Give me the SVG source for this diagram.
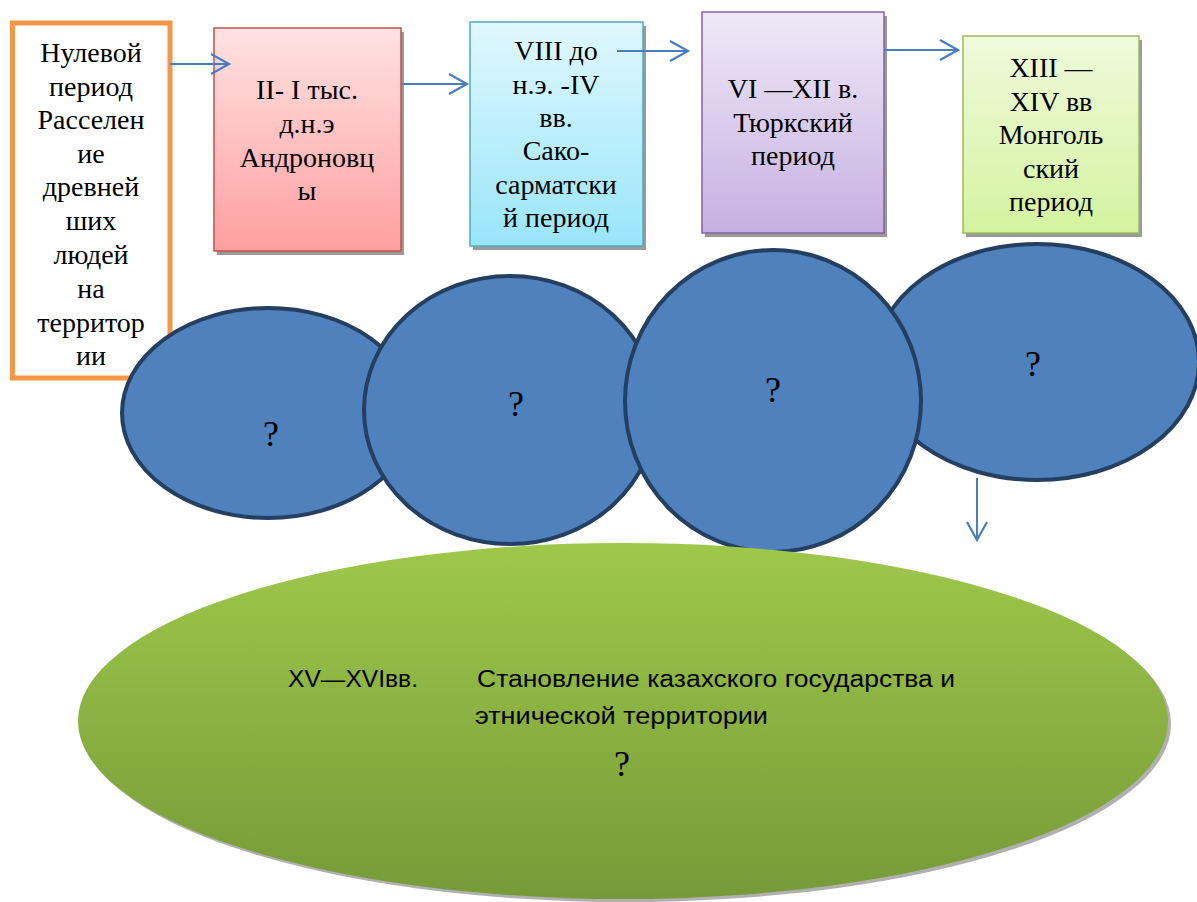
<svg xmlns="http://www.w3.org/2000/svg" width="1197" height="902" viewBox="0 0 1197 902">
<style>
.sh{fill:#9a9a9a}
.blob{fill:#4f81bd;stroke:#243f60;stroke-width:4}
.con{stroke:#4a7ebb;stroke-width:2;fill:none}
</style>
<defs>
<linearGradient id="gRed" x1="0" y1="0" x2="0" y2="1"><stop offset="0" stop-color="#ffe2e2"/><stop offset="1" stop-color="#ff9f9f"/></linearGradient>
<linearGradient id="gCyan" x1="0" y1="0" x2="0" y2="1"><stop offset="0" stop-color="#e0f8fe"/><stop offset="1" stop-color="#99e5fa"/></linearGradient>
<linearGradient id="gPur" x1="0" y1="0" x2="0" y2="1"><stop offset="0" stop-color="#efe9f7"/><stop offset="1" stop-color="#c6b0e2"/></linearGradient>
<linearGradient id="gGrn" x1="0" y1="0" x2="0" y2="1"><stop offset="0" stop-color="#effadb"/><stop offset="1" stop-color="#d4f3a0"/></linearGradient>
<linearGradient id="gBig" x1="0" y1="0" x2="0" y2="1"><stop offset="0" stop-color="#9ec84b"/><stop offset="1" stop-color="#769a38"/></linearGradient>
<marker id="ah" markerUnits="userSpaceOnUse" markerWidth="24" markerHeight="24" viewBox="-20 -12 24 24" refX="0" refY="0" orient="auto" overflow="visible">
<path d="M-18,-10 L0,0 L-18,10" fill="none" stroke="#4a7ebb" stroke-width="2.2"/>
</marker>
</defs>

<g id="node-zero">
<rect x="12.5" y="23" width="157.5" height="355" fill="#fff" stroke="#f79646" stroke-width="5"/>
<g font-family="Liberation Serif, 'Times New Roman', serif" font-size="28" text-anchor="middle" fill="#000">
<text x="91" y="62">Нулевой</text>
<text x="91" y="96">период</text>
<text x="91" y="129">Расселен</text>
<text x="91" y="163">ие</text>
<text x="91" y="196">древней</text>
<text x="91" y="230">ших</text>
<text x="91" y="264">людей</text>
<text x="91" y="298">на</text>
<text x="91" y="332">территор</text>
<text x="91" y="365">ии</text>
</g>
</g>

<g id="node-andronovo">
<rect class="sh" x="217" y="32" width="187" height="223"/>
<rect x="214" y="28" width="187" height="223" fill="url(#gRed)" stroke="#c0504d" stroke-width="1.5"/>
<g font-family="Liberation Serif, 'Times New Roman', serif" font-size="28" text-anchor="middle" fill="#000">
<text x="307" y="99">II- I тыс.</text>
<text x="307" y="133">д.н.э</text>
<text x="307" y="167">Андроновц</text>
<text x="307" y="200">ы</text>
</g>
</g>

<g id="node-saka">
<rect class="sh" x="473" y="26" width="173" height="224"/>
<rect x="470" y="22" width="173" height="224" fill="url(#gCyan)" stroke="#4bacc6" stroke-width="1.5"/>
<g font-family="Liberation Serif, 'Times New Roman', serif" font-size="28" text-anchor="middle" fill="#000">
<text x="556" y="60">VIII до</text>
<text x="556" y="94">н.э. -IV</text>
<text x="556" y="127">вв.</text>
<text x="556" y="160">Сако-</text>
<text x="556" y="194">сарматски</text>
<text x="556" y="227">й период</text>
</g>
</g>

<g id="node-turk">
<rect class="sh" x="705" y="16" width="182" height="221"/>
<rect x="702" y="12" width="182" height="221" fill="url(#gPur)" stroke="#8064a2" stroke-width="1.5"/>
<g font-family="Liberation Serif, 'Times New Roman', serif" font-size="28" text-anchor="middle" fill="#000">
<text x="793" y="98">VI —XII в.</text>
<text x="793" y="132">Тюркский</text>
<text x="793" y="165">период</text>
</g>
</g>

<g id="node-mongol">
<rect class="sh" x="966" y="40" width="176" height="197"/>
<rect x="963" y="36" width="176" height="197" fill="url(#gGrn)" stroke="#9bbb59" stroke-width="1.5"/>
<g font-family="Liberation Serif, 'Times New Roman', serif" font-size="28" text-anchor="middle" fill="#000">
<text x="1051" y="77">XIII —</text>
<text x="1051" y="111">XIV вв</text>
<text x="1051" y="144">Монголь</text>
<text x="1051" y="178">ский</text>
<text x="1051" y="211">период</text>
</g>
</g>

<g id="node-q1">
<ellipse class="blob" cx="268" cy="413" rx="146" ry="105"/>
<text x="271" y="446" font-family="Liberation Serif, serif" font-size="36" text-anchor="middle">?</text>
</g>
<g id="node-q2">
<ellipse class="blob" cx="510" cy="410" rx="146" ry="134"/>
<text x="516" y="416" font-family="Liberation Serif, serif" font-size="36" text-anchor="middle">?</text>
</g>
<g id="node-q4">
<ellipse class="blob" cx="1037" cy="362" rx="162" ry="118"/>
<text x="1033" y="376" font-family="Liberation Serif, serif" font-size="36" text-anchor="middle">?</text>
</g>
<g id="node-q3">
<ellipse class="blob" cx="773" cy="401" rx="148" ry="151"/>
<text x="773" y="402" font-family="Liberation Serif, serif" font-size="36" text-anchor="middle">?</text>
</g>

<g id="node-kazakh">
<ellipse cx="626" cy="724" rx="545" ry="178" fill="#b0b0b0"/>
<ellipse cx="623" cy="721" rx="545" ry="178" fill="url(#gBig)"/>
<g font-family="Liberation Sans, Arial, sans-serif" font-size="23" fill="#000">
<text x="288" y="687" textLength="130" lengthAdjust="spacingAndGlyphs">XV—XVIвв.</text>
<text x="477" y="687" textLength="478" lengthAdjust="spacingAndGlyphs">Становление казахского государства и</text>
<text x="475" y="724" textLength="293" lengthAdjust="spacingAndGlyphs">этнической территории</text>
</g>
<text x="622" y="776" font-family="Liberation Serif, serif" font-size="36" text-anchor="middle">?</text>
</g>

<g id="connectors">
<line class="con" x1="170" y1="64" x2="229" y2="64" marker-end="url(#ah)"/>
<line class="con" x1="401" y1="84" x2="467" y2="84" marker-end="url(#ah)"/>
<line class="con" x1="617" y1="51" x2="688" y2="51" marker-end="url(#ah)"/>
<line class="con" x1="884" y1="50" x2="958" y2="50" marker-end="url(#ah)"/>
<line class="con" x1="977" y1="478" x2="977" y2="540" marker-end="url(#ah)"/>
</g>
</svg>
